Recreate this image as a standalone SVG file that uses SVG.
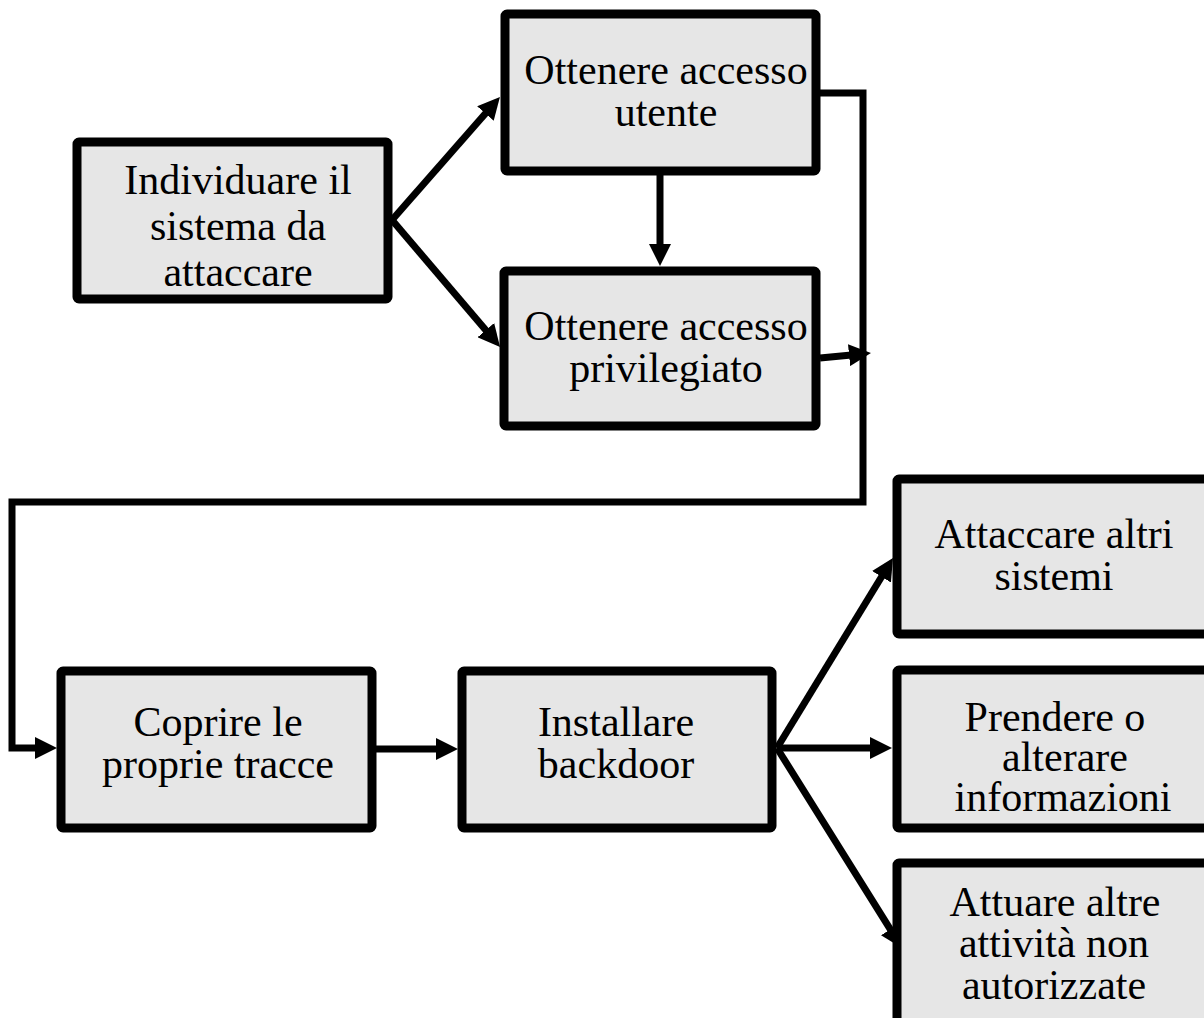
<svg xmlns="http://www.w3.org/2000/svg" width="1204" height="1018" viewBox="0 0 1204 1018">
  <style>
    .box { fill: #e6e6e6; stroke: #000; stroke-width: 9; }
    .lbl { font-family: "Liberation Serif", "Times New Roman", serif; font-size: 42px; fill: #000; text-anchor: middle; }
    .edge { fill: none; stroke: #000; stroke-width: 7; }
  </style>
  <defs>
    <marker id="arrow" markerUnits="userSpaceOnUse" markerWidth="22" markerHeight="22" refX="13" refY="11" orient="auto">
      <path d="M0,0 L22,11 L0,22 z" fill="#000"/>
    </marker>
  </defs>

  <rect width="1204" height="1018" fill="#fff"/>

  <!-- connectors -->
  <g id="connectors">
    <line class="edge" x1="392" y1="220" x2="494" y2="103.8" marker-end="url(#arrow)"/>
    <line class="edge" x1="392" y1="220" x2="494.2" y2="340.1" marker-end="url(#arrow)"/>
    <line class="edge" x1="660" y1="175" x2="660" y2="257" marker-end="url(#arrow)"/>
    <line class="edge" x1="820" y1="358" x2="862" y2="353.9" marker-end="url(#arrow)"/>
    <path class="edge" d="M820,93 H863 V502 H12 V748 H48" marker-end="url(#arrow)"/>
    <line class="edge" x1="365" y1="749" x2="449" y2="749" marker-end="url(#arrow)"/>
    <line class="edge" x1="777" y1="748" x2="888.3" y2="565.7" marker-end="url(#arrow)"/>
    <line class="edge" x1="777" y1="748" x2="883" y2="748" marker-end="url(#arrow)"/>
    <line class="edge" x1="777" y1="748" x2="897.2" y2="940.4" marker-end="url(#arrow)"/>
  </g>

  <!-- nodes -->
  <g id="individuare">
    <rect class="box" x="77" y="142" width="311" height="157" rx="2"/>
    <text class="lbl" x="238" y="194">Individuare il</text>
    <text class="lbl" x="238" y="240">sistema da</text>
    <text class="lbl" x="238" y="286">attaccare</text>
  </g>
  <g id="accesso-utente">
    <rect class="box" x="505" y="14" width="311" height="157" rx="2"/>
    <text class="lbl" x="666" y="84">Ottenere accesso</text>
    <text class="lbl" x="666" y="126">utente</text>
  </g>
  <g id="accesso-privilegiato">
    <rect class="box" x="504" y="271" width="312" height="155" rx="2"/>
    <text class="lbl" x="666" y="340">Ottenere accesso</text>
    <text class="lbl" x="666" y="382">privilegiato</text>
  </g>
  <g id="coprire">
    <rect class="box" x="61" y="671" width="311" height="157" rx="2"/>
    <text class="lbl" x="218" y="736">Coprire le</text>
    <text class="lbl" x="218" y="778">proprie tracce</text>
  </g>
  <g id="backdoor">
    <rect class="box" x="462" y="671" width="310" height="157" rx="2"/>
    <text class="lbl" x="616" y="736">Installare</text>
    <text class="lbl" x="616" y="778">backdoor</text>
  </g>
  <g id="attaccare">
    <rect class="box" x="897" y="479" width="340" height="155" rx="2"/>
    <text class="lbl" x="1054" y="548">Attaccare altri</text>
    <text class="lbl" x="1054" y="590">sistemi</text>
  </g>
  <g id="informazioni">
    <rect class="box" x="897" y="670" width="340" height="158" rx="2"/>
    <text class="lbl" x="1055" y="731">Prendere o</text>
    <text class="lbl" x="1065" y="771">alterare</text>
    <text class="lbl" x="1063" y="811">informazioni</text>
  </g>
  <g id="attivita">
    <rect class="box" x="897" y="863" width="340" height="200" rx="2"/>
    <text class="lbl" x="1055" y="916">Attuare altre</text>
    <text class="lbl" x="1054" y="957">attività non</text>
    <text class="lbl" x="1054" y="999">autorizzate</text>
  </g>
</svg>
